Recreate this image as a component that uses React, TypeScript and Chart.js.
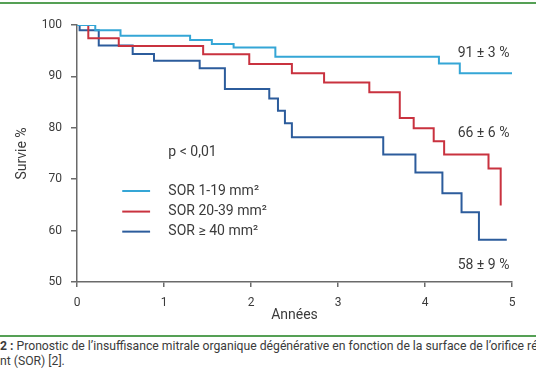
import React, { useEffect, useRef } from "react";
import { Chart, registerables } from "chart.js";

Chart.register(...registerables);

// ---- data ----
const xTicks = [0, 1, 2, 3, 4, 5];
const yTicks = [50, 60, 70, 80, 90, 100];

const seriesLabels = ["SOR 1-19 mm²", "SOR 20-39 mm²", "SOR ≥ 40 mm²"];
const seriesColors = ["#35a6d6", "#c9323f", "#2c5c9c"];

const sor1Times = [0, 0.21, 0.5, 1.3, 1.55, 1.8, 2.28, 4.16, 4.4, 5.0];
const sor1Surv = [100, 99.0, 97.9, 97.1, 96.3, 95.6, 93.8, 92.5, 90.6, 90.6];

const sor2Times = [0, 0.13, 0.48, 1.45, 1.98, 2.47, 2.84, 3.36, 3.71, 3.87, 4.1, 4.22, 4.73, 4.87];
const sor2Surv = [100, 97.4, 95.9, 94.3, 92.4, 90.6, 88.8, 86.9, 81.9, 79.9, 77.4, 74.8, 72.1, 64.9];

const sor3Times = [0, 0.03, 0.25, 0.64, 0.885, 1.41, 1.7, 2.21, 2.31, 2.39, 2.47, 3.52, 3.89, 4.2, 4.42, 4.62, 4.94];
const sor3Surv = [100, 99.0, 96.0, 94.35, 93.05, 91.6, 87.55, 85.7, 83.3, 80.9, 78.15, 74.8, 71.3, 67.25, 63.55, 58.2, 58.2];

const endLabels = ["91 ± 3 %", "66 ± 6 %", "58 ± 9 %"];
const pValueText = "p < 0,01";
const xTitle = "Années";
const yTitle = "Survie %";
const captionBold = "2 :";
const captionLine1 =
  " Pronostic de l’insuffisance mitrale organique dégénérative en fonction de la surface de l’orifice régurgitant";
const captionLine2 = "nt (SOR) [2].";

const FONT = "Roboto, 'Open Sans', sans-serif";
const TEXT = "#3b3b3b";
const AXIS = "#6a6a6a";
const GREEN = "#55a055";

const toPoints = (t: number[], v: number[]) => t.map((x, i) => ({ x, y: v[i] }));

const overlayPlugin = {
  id: "overlay",
  afterDatasetsDraw(chart: any) {
    const { ctx, scales } = chart;
    const xs = scales.x;
    const ys = scales.y;
    ctx.save();
    ctx.fillStyle = TEXT;
    ctx.font = `14px ${FONT}`;
    ctx.textBaseline = "middle";

    // end-of-curve annotations
    ctx.textAlign = "right";
    const endY = [94.5, 78.8, 53.3];
    endLabels.forEach((txt, i) => {
      ctx.fillText(txt, xs.getPixelForValue(4.97), ys.getPixelForValue(endY[i]));
    });

    // p value
    ctx.textAlign = "left";
    ctx.fillText(pValueText, xs.getPixelForValue(1.05), ys.getPixelForValue(75.1));

    // legend
    const legY = [67.7, 63.7, 59.8];
    seriesLabels.forEach((lab, i) => {
      const y = ys.getPixelForValue(legY[i]);
      ctx.strokeStyle = seriesColors[i];
      ctx.lineWidth = 2;
      ctx.beginPath();
      ctx.moveTo(xs.getPixelForValue(0.52), y);
      ctx.lineTo(xs.getPixelForValue(0.84), y);
      ctx.stroke();
      ctx.fillStyle = TEXT;
      ctx.fillText(lab, xs.getPixelForValue(1.05), y);
    });
    ctx.restore();
  },
};

export default function App() {
  const ref = useRef<HTMLCanvasElement | null>(null);

  useEffect(() => {
    if (!ref.current) return;
    const series = [
      toPoints(sor1Times, sor1Surv),
      toPoints(sor2Times, sor2Surv),
      toPoints(sor3Times, sor3Surv),
    ];
    const chart = new Chart(ref.current, {
      type: "line",
      data: {
        datasets: series.map((d, i) => ({
          label: seriesLabels[i],
          data: d,
          borderColor: seriesColors[i],
          backgroundColor: seriesColors[i],
          borderWidth: 2,
          pointRadius: 0,
          stepped: "before" as const,
          fill: false,
        })),
      },
      options: {
        responsive: false,
        animation: false,
        layout: { padding: { top: 25, right: 24, left: 0, bottom: 0 } },
        plugins: { legend: { display: false }, tooltip: { enabled: false } },
        scales: {
          x: {
            type: "linear",
            min: 0,
            max: 5,
            afterBuildTicks: (s: any) => {
              s.ticks = xTicks.map((v) => ({ value: v }));
            },
            afterFit: (s: any) => {
              s.height = 48;
            },
            grid: { drawOnChartArea: false, drawTicks: true, tickLength: 5, color: AXIS, lineWidth: 1.5 },
            border: { display: true, color: AXIS, width: 1.5 },
            ticks: { color: TEXT, font: { family: FONT, size: 12 }, padding: 9, maxRotation: 0 },
            title: {
              display: true,
              text: xTitle,
              color: TEXT,
              font: { family: FONT, size: 14 },
              padding: { top: 0, bottom: 6 },
            },
          },
          y: {
            type: "linear",
            min: 50,
            max: 100,
            afterBuildTicks: (s: any) => {
              s.ticks = yTicks.map((v) => ({ value: v }));
            },
            afterFit: (s: any) => {
              s.width = 77;
            },
            grid: { drawOnChartArea: false, drawTicks: true, tickLength: 6, color: AXIS, lineWidth: 1.5 },
            border: { display: true, color: AXIS, width: 1.5 },
            ticks: { color: TEXT, font: { family: FONT, size: 12 }, padding: 9 },
            title: {
              display: true,
              text: yTitle,
              color: TEXT,
              font: { family: FONT, size: 14 },
              padding: { top: 14, bottom: 0 },
            },
          },
        },
      },
      plugins: [overlayPlugin],
    });
    return () => chart.destroy();
  }, []);

  return (
    <div
      style={{
        position: "fixed",
        left: 0,
        top: 0,
        width: 536,
        height: 386,
        background: "#fff",
        overflow: "hidden",
        fontFamily: FONT,
      }}
    >
      <div style={{ position: "absolute", left: 0, top: 2, width: 536, height: 2, background: GREEN }} />
      <canvas ref={ref} width={536} height={330} style={{ position: "absolute", left: 0, top: 0, display: "block" }} />
      <div style={{ position: "absolute", left: 0, top: 335, width: 536, height: 2, background: GREEN }} />
      <div
        style={{
          position: "absolute",
          left: 0,
          top: 339,
          width: 536,
          fontSize: 12.2,
          lineHeight: "15px",
          color: TEXT,
          whiteSpace: "nowrap",
          overflow: "hidden",
        }}
      >
        <div>
          <b>{captionBold}</b>
          {captionLine1}
        </div>
        <div>{captionLine2}</div>
      </div>
    </div>
  );
}
